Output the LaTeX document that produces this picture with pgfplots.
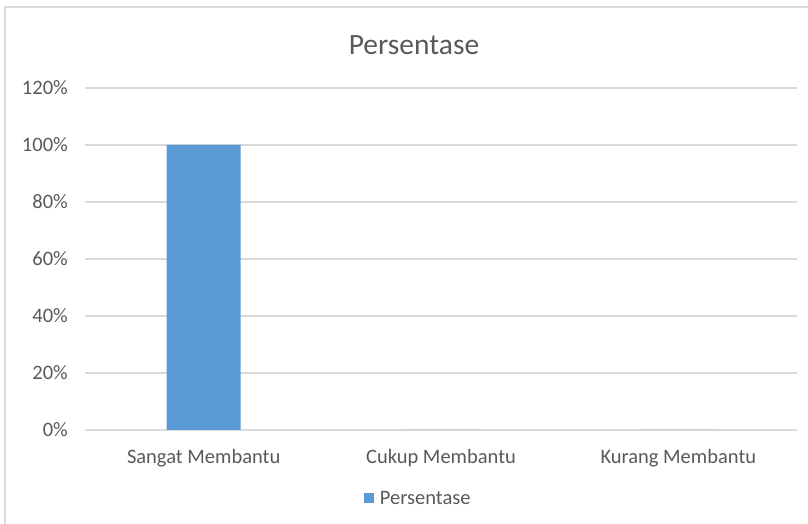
\documentclass[border=0pt]{standalone}
\usepackage{pgfplots}
\pgfplotsset{compat=1.18}
\usepackage{fontspec}
\setmainfont{Carlito}
\definecolor{barblue}{HTML}{5B9BD5}
\definecolor{gridgray}{HTML}{D9D9D9}
\definecolor{txtgray}{HTML}{595959}
\begin{document}
\begin{tikzpicture}[x=1pt,y=1pt]
\useasboundingbox (0,0) rectangle (808,524);
\draw[gridgray, line width=1.3pt] (5,-10) rectangle (820,517);
\node[txtgray, font=\fontsize{29.5}{32}\selectfont] at (414,479) {Persentase};
\begin{axis}[
    at={(85pt,94pt)}, anchor=south west,
    scale only axis, width=712pt, height=342pt,
    ybar, bar width=74pt,
    xmin=-0.5, xmax=2.5, ymin=0, ymax=120,
    xtick=data,
    xticklabels={Sangat Membantu, Cukup Membantu, Kurang Membantu},
    ytick={0,20,...,120},
    yticklabel={\pgfmathprintnumber{\tick}\%},
    /pgf/number format/assume math mode=true,
    ymajorgrids, grid style={gridgray, line width=1.3pt},
    axis line style={draw=none},
    major tick style={draw=none},
    ticklabel style={font=\fontsize{20.5}{24}\selectfont, text=txtgray},
    y tick label style={anchor=east, inner sep=0pt, xshift=-17pt},
    x tick label style={anchor=north, inner sep=0pt, yshift=-15pt},
    legend style={at={(0.468,-0.2)}, anchor=center, draw=none, fill=none,
        font=\fontsize{20.5}{24}\selectfont, text=txtgray},
    legend image code/.code={\fill[barblue] (0pt,-5pt) rectangle (10pt,5pt);},
    legend cell align=left,
    legend style={/tikz/every even column/.append style={column sep=0pt}},
]
\addplot[fill=barblue, draw=none] coordinates {(0,100) (1,0) (2,0)};
\legend{\hspace{4pt}Persentase}
\end{axis}
\end{tikzpicture}
\end{document}
